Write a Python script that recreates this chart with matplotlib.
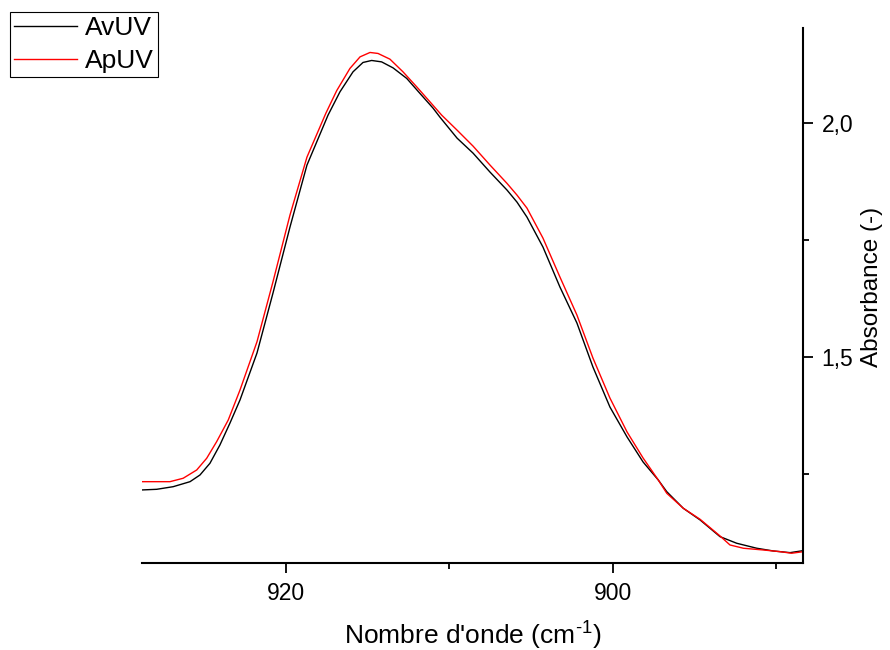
import matplotlib
matplotlib.use("Agg")
import matplotlib.pyplot as plt
from matplotlib.ticker import MultipleLocator, FuncFormatter

plt.rcParams['font.family'] = ['Liberation Sans', 'DejaVu Sans']
plt.rcParams['mathtext.fontset'] = 'custom'
plt.rcParams['mathtext.rm'] = 'Liberation Sans'
plt.rcParams['mathtext.it'] = 'Liberation Sans:italic'
plt.rcParams['mathtext.bf'] = 'Liberation Sans:bold'

# AvUV (before UV)
wn_av = [928.84, 927.92, 926.91, 925.88, 925.27, 924.66, 924.05, 923.44, 922.82, 921.78,
         920.80, 919.76, 918.72, 917.43, 916.70, 915.90, 915.29, 914.76, 914.15, 913.45,
         912.61, 911.80, 911.00, 910.58, 909.53, 908.55, 907.51, 906.47, 905.86, 905.25,
         904.27, 903.23, 902.19, 901.21, 900.17, 899.12, 898.14, 897.21, 896.69, 895.68,
         894.65, 893.43, 892.41, 891.18, 890.17, 889.14, 888.33]
abs_av = [1.2165, 1.2179, 1.2235, 1.2342, 1.2485, 1.2735, 1.3126, 1.3590, 1.4088, 1.5092,
          1.6374, 1.7784, 1.9109, 2.0177, 2.0675, 2.1103, 2.1303, 2.1346, 2.1316, 2.1188,
          2.0962, 2.0641, 2.0327, 2.0135, 1.9686, 1.9365, 1.8959, 1.8575, 1.8318, 1.7998,
          1.7357, 1.6502, 1.5733, 1.4793, 1.3938, 1.3297, 1.2763, 1.2378, 1.2128, 1.1774,
          1.1524, 1.1167, 1.1026, 1.0919, 1.0861, 1.0825, 1.0868]

# ApUV (after UV)
wn_ap = [928.84, 927.11, 926.30, 925.47, 924.86, 924.25, 923.54, 922.82, 921.78, 920.80,
         919.76, 918.72, 917.56, 916.90, 916.09, 915.47, 914.86, 914.37, 913.64, 912.84,
         912.00, 911.19, 910.47, 909.53, 908.55, 907.51, 906.47, 905.86, 905.25, 904.27,
         903.23, 902.19, 901.21, 900.17, 899.12, 898.14, 897.21, 896.69, 895.68, 894.65,
         893.43, 892.82, 892.00, 890.78, 889.76, 889.04, 888.33]
abs_ap = [1.2342, 1.2342, 1.2415, 1.2592, 1.2842, 1.3197, 1.3660, 1.4301, 1.5333, 1.6615,
          1.8041, 1.9280, 2.0220, 2.0700, 2.1175, 2.1423, 2.1517, 2.1496, 2.1374, 2.1103,
          2.0782, 2.0462, 2.0177, 1.9857, 1.9515, 1.9109, 1.8718, 1.8468, 1.8190, 1.7549,
          1.6716, 1.5904, 1.4985, 1.4130, 1.3404, 1.2848, 1.2378, 1.2094, 1.1774, 1.1538,
          1.1182, 1.0989, 1.0919, 1.0882, 1.0846, 1.0812, 1.0846]

series_labels = ["AvUV", "ApUV"]

W, H = 890, 650
fig = plt.figure(figsize=(W / 100, H / 100), dpi=100)
ax = fig.add_axes([142 / W, 1 - 562.7 / H, (803.3 - 142) / W, (562.7 - 28) / H])

ax.plot(wn_av, abs_av, color='black', lw=1.0, label=series_labels[0])
ax.plot(wn_ap, abs_ap, color='#ff0000', lw=1.0, label=series_labels[1])

ax.set_xlim(928.82, 888.33)
ax.set_ylim(1.061, 2.204)

for s in ['left', 'top']:
    ax.spines[s].set_visible(False)
for s in ['right', 'bottom']:
    ax.spines[s].set_linewidth(1.5)

ax.yaxis.tick_right()
ax.yaxis.set_label_position('right')
ax.xaxis.set_major_locator(MultipleLocator(20))
ax.xaxis.set_minor_locator(MultipleLocator(10))
ax.yaxis.set_major_locator(MultipleLocator(0.5))
ax.yaxis.set_minor_locator(MultipleLocator(0.25))
ax.xaxis.set_major_formatter(FuncFormatter(lambda v, p: f"{v:.0f}"))
ax.yaxis.set_major_formatter(FuncFormatter(lambda v, p: f"{v:.1f}".replace('.', ',')))

ax.tick_params(which='major', direction='out', length=7.2, width=1.3, labelsize=16.5)
ax.tick_params(which='minor', direction='out', length=4, width=1.3)
ax.tick_params(axis='x', which='major', pad=7)
ax.tick_params(axis='y', which='major', pad=6)

ax.set_xlabel("Nombre d'onde (cm$^{\\text{-1}}$)", fontsize=19, labelpad=10)
ax.set_ylabel("Absorbance (-)", fontsize=17.5)
ax.yaxis.set_label_coords((861 - 142) / (803.3 - 142), (562.7 - 287) / (562.7 - 28))

leg = fig.legend(loc='upper left', bbox_to_anchor=(10 / W, 1 - 12 / H),
                 bbox_transform=fig.transFigure, borderaxespad=0,
                 fontsize=19, frameon=True, fancybox=False, framealpha=1,
                 edgecolor='black', borderpad=0.15, handlelength=2.4,
                 handletextpad=0.3, labelspacing=0.35)
leg.get_frame().set_linewidth(0.8)

fig.savefig("out.png", dpi=100)
